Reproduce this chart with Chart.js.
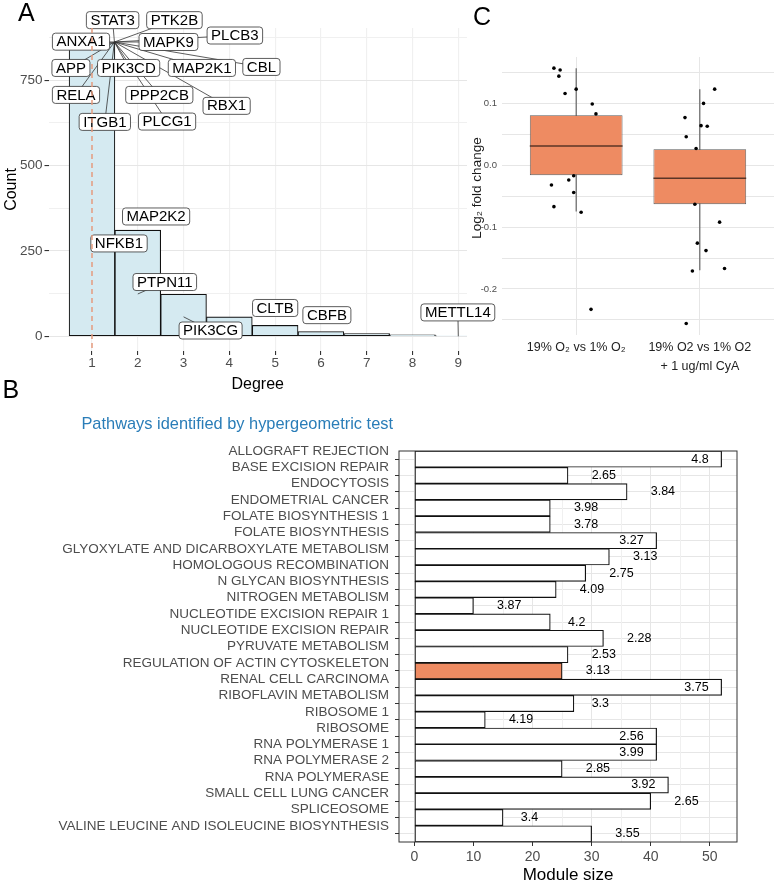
<!DOCTYPE html>
<html>
<head>
<meta charset="utf-8">
<script src="https://cdn.jsdelivr.net/npm/chart.js@4.4.1/dist/chart.umd.min.js"></script>
<style>
  html, body { margin: 0; padding: 0; background: #fff; overflow: hidden; }
  #page { position: relative; width: 778px; height: 882px; }
  canvas { position: absolute; }
  #cvC { left: 462px; top: 0; z-index: 1; }
  #cvA { left: 0; top: 0; z-index: 2; }
  #cvB { left: 0; top: 376px; z-index: 3; }
</style>
</head>
<body>
<div id="page">
  <canvas id="cvC" width="316" height="385"></canvas>
  <canvas id="cvA" width="512" height="395"></canvas>
  <canvas id="cvB" width="778" height="514"></canvas>
</div>
<script>
  // ---- Panel A: degree histogram ----
  const degrees = [1, 2, 3, 4, 5, 6, 7, 8, 9];
  const degreeCounts = [860, 311, 123, 57, 32, 14, 8, 4, 1];
  const degreeTicks = [1, 2, 3, 4, 5, 6, 7, 8, 9];
  const degreeMinorTicks = [0.5, 1.5, 2.5, 3.5, 4.5, 5.5, 6.5, 7.5, 8.5];
  const countTicks = [0, 125, 250, 375, 500, 625, 750, 875];
  const markedDegree = 1;

  // repelled gene labels (label centre) and the point each one refers to
  const geneNames = ['STAT3', 'PTK2B', 'ANXA1', 'MAPK9', 'PLCB3', 'APP', 'PIK3CD', 'MAP2K1', 'CBL',
    'RELA', 'PPP2CB', 'RBX1', 'ITGB1', 'PLCG1', 'MAP2K2', 'NFKB1', 'PTPN11', 'PIK3CG', 'CLTB', 'CBFB', 'METTL14'];
  const geneLabelDegree = [1.45, 2.80, 0.76, 2.67, 4.12, 0.54, 1.80, 3.40, 4.70,
    0.65, 2.47, 3.94, 1.28, 2.64, 2.40, 1.59, 2.59, 3.59, 5.00, 6.13, 8.99];
  const geneLabelCount = [926, 926, 863, 862, 881, 786, 786, 786, 789,
    707, 707, 675, 628, 629, 351, 272, 159, 17, 83, 62, 70];
  const genePointDegree = [1.49, 1.49, 1.49, 1.49, 1.49, 1.49, 1.49, 1.49, 1.49,
    1.49, 1.49, 1.49, 1.49, 1.49, null, null, 2, 3, null, null, 9];
  const genePointCount = [862, 862, 862, 862, 862, 862, 862, 862, 862,
    862, 862, 862, 862, 862, null, null, 124, 57, null, null, 0];

  // ---- Panel B: pathways ----
  const pathways = ['ALLOGRAFT REJECTION', 'BASE EXCISION REPAIR', 'ENDOCYTOSIS', 'ENDOMETRIAL CANCER',
    'FOLATE BIOSYNTHESIS 1', 'FOLATE BIOSYNTHESIS', 'GLYOXYLATE AND DICARBOXYLATE METABOLISM',
    'HOMOLOGOUS RECOMBINATION', 'N GLYCAN BIOSYNTHESIS', 'NITROGEN METABOLISM',
    'NUCLEOTIDE EXCISION REPAIR 1', 'NUCLEOTIDE EXCISION REPAIR', 'PYRUVATE METABOLISM',
    'REGULATION OF ACTIN CYTOSKELETON', 'RENAL CELL CARCINOMA', 'RIBOFLAVIN METABOLISM', 'RIBOSOME 1',
    'RIBOSOME', 'RNA POLYMERASE 1', 'RNA POLYMERASE 2', 'RNA POLYMERASE', 'SMALL CELL LUNG CANCER',
    'SPLICEOSOME', 'VALINE LEUCINE AND ISOLEUCINE BIOSYNTHESIS'];
  const moduleSize = [52, 26, 36, 23, 23, 41, 33, 29, 24, 10, 23, 32, 26, 25, 52, 27, 12, 41, 41, 25, 43, 40, 15, 30];
  const pathwayScore = [4.8, 2.65, 3.84, 3.98, 3.78, 3.27, 3.13, 2.75, 4.09, 3.87, 4.2, 2.28, 2.53, 3.13,
    3.75, 3.3, 4.19, 2.56, 3.99, 2.85, 3.92, 2.65, 3.4, 3.55];
  const highlightPathway = 'REGULATION OF ACTIN CYTOSKELETON';
  const moduleTicks = [0, 5, 10, 15, 20, 25, 30, 35, 40, 45, 50];

  // ---- Panel C: log2 fold change boxplots ----
  const contrasts = ['19% O₂ vs 1% O₂', ['19% O2 vs 1% O2', '+ 1 ug/ml CyA']];
  const boxQ1 = [-0.016, -0.063];
  const boxMedian = [0.031, -0.021];
  const boxQ3 = [0.081, 0.026];
  const whiskerLow = [-0.075, -0.170];
  const whiskerHigh = [0.157, 0.123];
  const foldChange1 = [0.157, 0.154, 0.144, 0.116, 0.123, 0.099, 0.083, -0.017, -0.032, -0.024, -0.044, -0.067, -0.076, -0.233];
  const jitter1 = [-0.18, -0.13, -0.14, -0.09, 0.00, 0.13, 0.16, -0.02, -0.20, -0.06, -0.02, -0.18, 0.04, 0.12];
  const foldChange2 = [0.123, 0.100, 0.077, 0.064, 0.063, 0.046, 0.027, -0.063, -0.092, -0.126, -0.138, -0.171, -0.167, -0.256];
  const jitter2 = [0.12, 0.03, -0.12, 0.01, 0.06, -0.11, -0.03, -0.04, 0.16, -0.02, 0.05, -0.06, 0.20, -0.11];
  const foldTicks = [-0.25, -0.2, -0.15, -0.1, -0.05, 0, 0.05, 0.1, 0.15];

  const FONT = '"Liberation Sans", Arial, Helvetica, sans-serif';
  Chart.defaults.font.family = FONT;
  Chart.defaults.plugins.legend.display = false;
  Chart.defaults.plugins.tooltip.enabled = false;

  const GRID = '#E6E6E6';
  const GRID_MINOR = '#F0F0F0';
  const TICK_TEXT = '#4D4D4D';

  function setTicks(values) {
    return scale => { scale.ticks = values.map(v => ({ value: v })); };
  }

  function roundedBox(ctx, x, y, w, h, r) {
    ctx.beginPath();
    ctx.moveTo(x + r, y);
    ctx.arcTo(x + w, y, x + w, y + h, r);
    ctx.arcTo(x + w, y + h, x, y + h, r);
    ctx.arcTo(x, y + h, x, y, r);
    ctx.arcTo(x, y, x + w, y, r);
    ctx.closePath();
  }

  function panelLetter(ctx, letter, x, y) {
    ctx.save();
    ctx.font = '25px ' + FONT;
    ctx.fillStyle = '#000';
    ctx.textAlign = 'left';
    ctx.textBaseline = 'alphabetic';
    ctx.fillText(letter, x, y);
    ctx.restore();
  }

  // ---------- A ----------
  const geneLabels = {
    id: 'geneLabels',
    afterDatasetsDraw(chart) {
      const { ctx, scales: { x, y } } = chart;
      ctx.save();
      ctx.strokeStyle = '#333';
      ctx.lineWidth = 0.8;
      geneNames.forEach((g, i) => {
        if (genePointDegree[i] === null) return;
        ctx.beginPath();
        ctx.moveTo(x.getPixelForValue(geneLabelDegree[i]), y.getPixelForValue(geneLabelCount[i]));
        ctx.lineTo(x.getPixelForValue(genePointDegree[i]), y.getPixelForValue(genePointCount[i]));
        ctx.stroke();
      });
      ctx.font = '15px ' + FONT;
      ctx.textAlign = 'center';
      ctx.textBaseline = 'middle';
      geneNames.forEach((g, i) => {
        const cx = x.getPixelForValue(geneLabelDegree[i]);
        const cy = y.getPixelForValue(geneLabelCount[i]);
        const w = ctx.measureText(g).width + 8;
        const h = 17;
        roundedBox(ctx, cx - w / 2, cy - h / 2, w, h, 3);
        ctx.fillStyle = '#fff';
        ctx.fill();
        ctx.stroke();
        ctx.fillStyle = '#000';
        ctx.fillText(g, cx, cy + 0.5);
      });
      ctx.restore();
    },
    afterDraw(chart) {
      const { ctx, chartArea, scales: { x } } = chart;
      const px = x.getPixelForValue(markedDegree);
      ctx.save();
      ctx.strokeStyle = '#E59B7E';
      ctx.lineWidth = 1.5;
      ctx.setLineDash([5, 4]);
      ctx.beginPath();
      ctx.moveTo(px, chartArea.top);
      ctx.lineTo(px, chartArea.bottom);
      ctx.stroke();
      ctx.restore();
      panelLetter(ctx, 'A', 18, 21);
    }
  };

  new Chart(document.getElementById('cvA'), {
    type: 'bar',
    data: {
      datasets: [{
        data: degrees.map((d, i) => ({ x: d, y: degreeCounts[i] })),
        backgroundColor: '#D5EAF1',
        borderColor: '#111',
        borderWidth: 1.1,
        borderSkipped: false,
        barPercentage: 1,
        categoryPercentage: 1
      }]
    },
    options: {
      responsive: false,
      animation: false,
      layout: { padding: { left: 0, top: 28, right: 45, bottom: 0 } },
      scales: {
        x: {
          type: 'linear', min: 0.05, max: 9.19, offset: false,
          afterBuildTicks: setTicks(degreeTicks),
          afterFit: s => { s.height = 44; },
          ticks: { font: { size: 13.5 }, color: TICK_TEXT, padding: 0 },
          grid: { color: GRID, lineWidth: 1.1, tickLength: 4, tickColor: '#333', offset: false },
          border: { display: false },
          title: { display: true, text: 'Degree', color: '#000', font: { size: 16 }, padding: { top: 0, bottom: 1 } }
        },
        xMinor: {
          type: 'linear', position: 'bottom', min: 0.05, max: 9.19, offset: false,
          afterBuildTicks: setTicks(degreeMinorTicks),
          afterFit: s => { s.height = 0; },
          ticks: { display: false },
          grid: { color: GRID_MINOR, lineWidth: 1, drawTicks: false },
          border: { display: false }
        },
        y: {
          min: -43, max: 903,
          afterBuildTicks: setTicks(countTicks),
          afterFit: s => { s.width = 48.5; },
          ticks: { font: { size: 13.5 }, color: TICK_TEXT, padding: 2, callback: v => (v % 250 === 0 ? v : '') },
          grid: {
            color: c => (c.tick && c.tick.value % 250 === 0 ? GRID : GRID_MINOR),
            lineWidth: c => (c.tick && c.tick.value % 250 === 0 ? 1.1 : 1),
            tickLength: 4,
            tickColor: c => (c.tick && c.tick.value % 250 === 0 ? '#333' : 'rgba(0,0,0,0)')
          },
          border: { display: false },
          title: { display: true, text: 'Count', color: '#000', font: { size: 16 }, padding: { top: 1.5, bottom: 0 } }
        }
      }
    },
    plugins: [geneLabels]
  });

  // ---------- C ----------
  const groups = [1, 2];
  const isMajorFold = v => Math.abs(v * 10 - Math.round(v * 10)) < 1e-6;

  const panelC = {
    id: 'panelC',
    beforeDraw(chart) {
      const { ctx, width, height } = chart;
      ctx.save();
      ctx.fillStyle = '#fff';
      ctx.fillRect(0, 0, width, height);
      ctx.restore();
    },
    afterDraw(chart) {
      const { ctx } = chart;
      // y axis title, sits a little above the panel centre as in the source figure
      ctx.save();
      ctx.translate(15.5, 188);
      ctx.rotate(-Math.PI / 2);
      ctx.font = '13.5px ' + FONT;
      ctx.fillStyle = '#1a1a1a';
      ctx.textAlign = 'center';
      ctx.textBaseline = 'middle';
      ctx.fillText('Log₂ fold change', 0, 0);
      ctx.restore();
      panelLetter(ctx, 'C', 11, 25);
    }
  };

  const whiskerSets = groups.map((g, i) => ({
    type: 'line',
    data: [{ x: g, y: whiskerLow[i] }, { x: g, y: whiskerHigh[i] }],
    borderColor: '#5a5a5a', borderWidth: 1.1, pointRadius: 0, order: 4
  }));
  const medianSets = groups.map((g, i) => ({
    type: 'line',
    data: [{ x: g - 0.375, y: boxMedian[i] }, { x: g + 0.375, y: boxMedian[i] }],
    borderColor: '#5b3526', borderWidth: 1.6, pointRadius: 0, order: 2
  }));

  new Chart(document.getElementById('cvC'), {
    type: 'bar',
    data: {
      datasets: [
        ...whiskerSets,
        {
          type: 'bar',
          data: groups.map((g, i) => ({ x: g, y: [boxQ1[i], boxQ3[i]] })),
          backgroundColor: '#EE8B62',
          borderColor: '#5a5a5a',
          borderWidth: 0.9,
          borderSkipped: false,
          barPercentage: 0.75,
          categoryPercentage: 1,
          order: 3
        },
        ...medianSets,
        {
          type: 'scatter',
          data: foldChange1.map((v, i) => ({ x: 1 + jitter1[i], y: v }))
            .concat(foldChange2.map((v, i) => ({ x: 2 + jitter2[i], y: v }))),
          pointRadius: 1.8,
          pointBackgroundColor: '#000',
          pointBorderWidth: 0,
          order: 1
        }
      ]
    },
    options: {
      responsive: false,
      animation: false,
      layout: { padding: { left: 0, top: 57, right: 0, bottom: 0 } },
      scales: {
        x: {
          type: 'linear', min: 0.4, max: 2.6, offset: false,
          afterBuildTicks: setTicks(groups),
          afterFit: s => { s.height = 50; },
          ticks: {
            font: { size: 12.5, lineHeight: 1.5 }, color: '#222', padding: 3.6,
            callback: v => contrasts[v - 1]
          },
          grid: { color: GRID, drawTicks: false, offset: false },
          border: { display: false }
        },
        y: {
          min: -0.2745, max: 0.175,
          afterBuildTicks: setTicks(foldTicks),
          afterFit: s => { s.width = 40; },
          ticks: {
            font: { size: 9.5 }, color: TICK_TEXT, padding: 5,
            callback: v => (isMajorFold(v) ? v.toFixed(1) : '')
          },
          grid: { color: GRID, drawTicks: false },
          border: { display: false }
        }
      }
    },
    plugins: [panelC]
  });

  // ---------- B ----------
  const panelB = {
    id: 'panelB',
    afterDatasetsDraw(chart) {
      const { ctx, chartArea, scales: { x, y } } = chart;
      ctx.save();
      ctx.strokeStyle = '#333';
      ctx.lineWidth = 1;
      ctx.strokeRect(chartArea.left, chartArea.top, chartArea.right - chartArea.left, chartArea.bottom - chartArea.top);

      ctx.font = '12.5px ' + FONT;
      ctx.fillStyle = '#000';
      ctx.textBaseline = 'middle';
      moduleSize.forEach((v, i) => {
        const text = String(pathwayScore[i]);
        const py = y.getPixelForValue(i);
        if (v > 40) {
          ctx.textAlign = 'right';
          ctx.fillText(text, x.getPixelForValue(v - 2.2), py);
        } else {
          ctx.textAlign = 'left';
          ctx.fillText(text, x.getPixelForValue(v + text.length), py);
        }
      });

      ctx.font = '16.4px ' + FONT;
      ctx.fillStyle = '#2A7DB8';
      ctx.textAlign = 'right';
      ctx.fillText('Pathways identified by hypergeometric test', chartArea.left - 6, chartArea.top - 27);
      ctx.restore();
      panelLetter(ctx, 'B', 2.5, 22);
    }
  };

  new Chart(document.getElementById('cvB'), {
    type: 'bar',
    data: {
      labels: pathways,
      datasets: [{
        data: moduleSize,
        backgroundColor: pathways.map(p => (p === highlightPathway ? '#EE8B62' : '#FFFFFF')),
        borderColor: '#111',
        borderWidth: 1.2,
        borderSkipped: false,
        barPercentage: 1,
        categoryPercentage: 1
      }]
    },
    options: {
      indexAxis: 'y',
      responsive: false,
      animation: false,
      layout: { padding: { left: 0, top: 75, right: 41, bottom: 0 } },
      scales: {
        y: {
          offset: true,
          afterFit: s => { s.width = 399; },
          ticks: { autoSkip: false, font: { size: 13.5 }, color: TICK_TEXT, padding: 6, labelOffset: -8 },
          grid: { offset: false, color: GRID, tickLength: 4, tickColor: '#333' },
          border: { display: false }
        },
        x: {
          type: 'linear', min: -2.6, max: 54.6,
          afterBuildTicks: setTicks(moduleTicks),
          afterFit: s => { s.height = 48; },
          ticks: { font: { size: 14 }, color: TICK_TEXT, padding: 3, callback: v => (v % 10 === 0 ? v : '') },
          grid: {
            color: c => (c.tick && c.tick.value % 10 === 0 ? GRID : GRID_MINOR),
            tickLength: 4,
            tickColor: c => (c.tick && c.tick.value % 10 === 0 ? '#333' : 'rgba(0,0,0,0)')
          },
          border: { display: false },
          title: { display: true, text: 'Module size', color: '#000', font: { size: 17 }, padding: { top: 0, bottom: 4.8 } }
        }
      }
    },
    plugins: [panelB]
  });
</script>
</body>
</html>
